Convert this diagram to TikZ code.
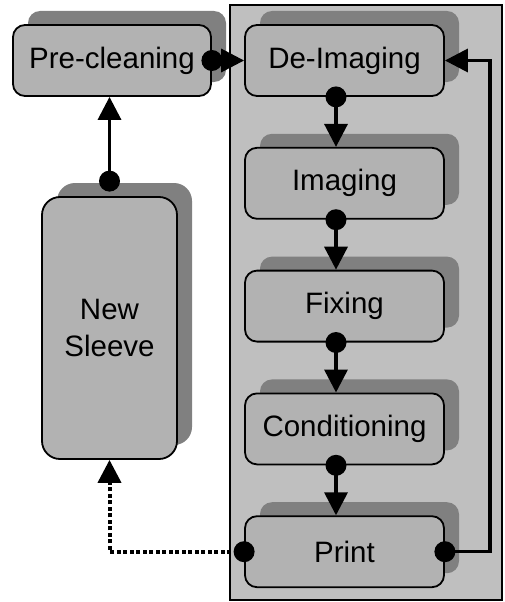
\documentclass[tikz,border=0pt]{standalone}
\usepackage{fontspec}
\setmainfont{Liberation Sans}
\usetikzlibrary{shadows}
\usetikzlibrary{arrows.meta}
\usetikzlibrary{positioning}
\definecolor{boxgray}{gray}{0.7}
\definecolor{shadowgray}{gray}{0.5}
\definecolor{panelgray}{gray}{0.75}

\tikzset{
  stage/.style={draw, line width=1.8pt, fill=boxgray, rounded corners=12pt,
    minimum width=199pt, minimum height=71pt, inner sep=0pt,
    font=\fontsize{29.5}{37}\selectfont,
    drop shadow={shadow xshift=15pt, shadow yshift=14pt, fill=shadowgray, opacity=1}},
  flow/.style={line width=3.5pt, -{Triangle[length=23pt,width=23pt]}},
  backflow/.style={flow, dash pattern=on 4pt off 2.5pt, line width=4pt},
}

\begin{document}
\begin{tikzpicture}[x=1pt,y=-1pt]
  \useasboundingbox (0,0) rectangle (504,602);
  % the press unit
  \filldraw[fill=panelgray, line width=2pt] (230,5) rectangle (502,600);

  \node[stage, minimum width=198pt] (preclean) at (112,60.5) {Pre-cleaning};
  \node[stage] (deimg) at (344.5,60.5) {De-Imaging};
  \node[stage, below=50pt of deimg] (img) {Imaging};
  \node[stage, below=50pt of img] (fix) {Fixing};
  \node[stage, below=50pt of fix] (cond) {Conditioning};
  \node[stage, below=50pt of cond] (print) {Print};
  \node[stage, minimum width=135pt, minimum height=262pt, rounded corners=18pt,
    align=center] (sleeve) at (109.5,328) {New\\Sleeve};
  \coordinate (sleevetop) at ([yshift=15pt]sleeve.north);

  % connectors
  \draw[flow] (sleevetop) -- (sleevetop |- preclean.south);
  \draw[flow] (preclean.east) -- (deimg.west);
  \foreach \a/\b in {deimg/img, img/fix, fix/cond, cond/print} {
    \draw[flow] ([xshift=-8.5pt]\a.south) -- ([xshift=-8.5pt]\b.north);
    \fill ([xshift=-8.5pt]\a.south) circle (10.5pt);
  }
  \draw[flow] (print.east) -- ++(45,0) |- (deimg.east);
  \draw[backflow] (print.west) -| (sleeve.south);

  \foreach \p in {sleevetop, preclean.east, print.east, print.west}
    \fill (\p) circle (10.5pt);
\end{tikzpicture}
\end{document}
